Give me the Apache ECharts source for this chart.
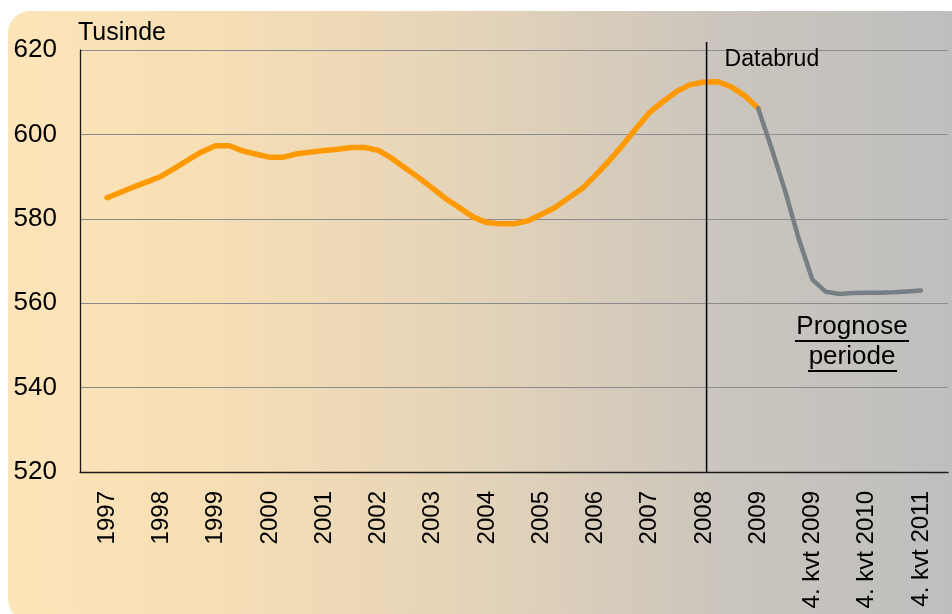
<!DOCTYPE html>
<html>
<head>
<meta charset="utf-8">
<script src="https://cdn.jsdelivr.net/npm/echarts@6/dist/echarts.min.js"></script>
<style>
html,body{margin:0;padding:0;background:#fff;}
#chart{width:952px;height:614px;}
</style>
</head>
<body>
<div id="chart"></div>
<script>
// Category tick labels (one per year / period)
const labels = ['1997','1998','1999','2000','2001','2002','2003','2004','2005','2006','2007','2008','2009','4. kvt 2009','4. kvt 2010','4. kvt 2011'];
// Quarterly values (thousands), actual period starting 1997
const actual = [585.0,586.3,587.6,588.8,590.1,592.0,594.0,595.9,597.3,597.3,596.1,595.3,594.6,594.6,595.4,595.8,
  596.2,596.5,596.9,596.9,596.2,594.3,592.0,589.7,587.2,584.7,582.6,580.4,579.1,578.8,578.8,579.5,
  581.0,582.6,584.9,587.1,590.3,593.7,597.4,601.4,605.2,607.8,610.2,611.8,612.4,612.5,611.3,609.2,606.2];
// Forecast quarterly values, starting at last actual quarter
const forecast = [606.2,596.6,586.5,575.2,565.6,562.7,562.2,562.4,562.5,562.5,562.6,562.8,563.0];
const forecastStart = actual.length - 1;
const yTicks = {min:520, max:620, interval:20};
const dataBreak = 11.05; // position of "Databrud" line in label units

const FONT = '"Liberation Sans", Arial, sans-serif';
const chart = echarts.init(document.getElementById('chart'), null, {renderer:'canvas'});

const actualData = actual.map((v,i)=>[i/4, v]);
const forecastData = forecast.map((v,i)=>[(forecastStart+i)/4, v]);

const option = {
  animation:false,
  backgroundColor:'#ffffff',
  grid:{left:80, right:4, top:50, bottom:142, containLabel:false},
  xAxis:[{
    type:'category', data:labels, boundaryGap:true, position:'bottom',
    axisLine:{show:true, onZero:false, lineStyle:{color:'#1a1a1a', width:1.3}},
    axisTick:{show:false},
    splitLine:{show:false},
    axisLabel:{rotate:90, interval:0, margin:19, fontSize:24, color:'#000', fontFamily:FONT}
  },{
    type:'value', min:-0.5, max:labels.length-0.5, show:false,
    axisLine:{onZero:false}
  }],
  yAxis:{
    type:'value', min:yTicks.min, max:yTicks.max, interval:yTicks.interval, position:'left',
    axisLine:{show:true, onZero:false, lineStyle:{color:'#1a1a1a', width:1.3}},
    axisTick:{show:false},
    splitLine:{show:true, lineStyle:{color:'#8c8c8c', width:1}},
    axisLabel:{margin:23, fontSize:26, color:'#000', fontFamily:FONT}
  },
  series:[{
    type:'line', xAxisIndex:1, data:actualData, showSymbol:false, smooth:false,
    lineStyle:{color:'#FF9900', width:5.5, join:'round', cap:'round'}, z:3
  },{
    type:'line', xAxisIndex:1, data:forecastData, showSymbol:false, smooth:false,
    lineStyle:{color:'#777f84', width:4.5, join:'round', cap:'round'}, z:3
  }]
};
chart.setOption(option);

const bx = chart.convertToPixel({xAxisIndex:1}, dataBreak);
const yTop = chart.convertToPixel({yAxisIndex:0}, 621.9);
const yBot = chart.convertToPixel({yAxisIndex:0}, 520);

chart.setOption({
  graphic:[
    {type:'rect', z:-10, silent:true, shape:{x:8, y:11, width:962, height:610, r:22},
     style:{fill:new echarts.graphic.LinearGradient(0,0,1,0,[
       {offset:0, color:'#FDE4B9'},
       {offset:0.2, color:'#F7DFB5'},
       {offset:0.45, color:'#E7D5B8'},
       {offset:0.75, color:'#CAC5BD'},
       {offset:1, color:'#BEBEBE'}
     ])}},
    {type:'line', z:5, silent:true, shape:{x1:bx, y1:yTop, x2:bx, y2:yBot}, style:{stroke:'#000', lineWidth:1.5}},
    {type:'text', z:5, left:78, top:21, style:{text:'Tusinde', font:'25px '+FONT, fill:'#000'}},
    {type:'text', z:5, x:bx+18, y:59.6, style:{text:'Databrud', font:'23px '+FONT, fill:'#000', textVerticalAlign:'middle'}},
    {type:'text', z:5, x:852, y:326.5, style:{text:'Prognose', font:'26px '+FONT, fill:'#000', textAlign:'center', textVerticalAlign:'middle'}},
    {type:'text', z:5, x:852, y:356.5, style:{text:'periode', font:'26px '+FONT, fill:'#000', textAlign:'center', textVerticalAlign:'middle'}},
    {type:'line', z:5, silent:true, shape:{x1:795, y1:341, x2:909, y2:341}, style:{stroke:'#000', lineWidth:2}},
    {type:'line', z:5, silent:true, shape:{x1:808, y1:371, x2:897, y2:371}, style:{stroke:'#000', lineWidth:2}}
  ]
});
</script>
</body>
</html>
